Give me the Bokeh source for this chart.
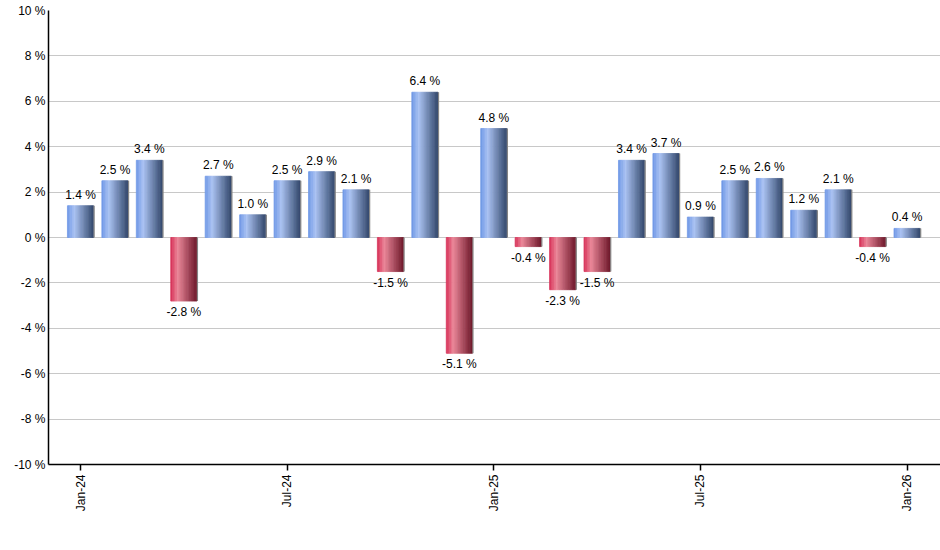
import math
from bokeh.plotting import figure
from bokeh.models import Range1d, FixedTicker, PrintfTickFormatter, ColumnDataSource
from bokeh.core.properties import value
from bokeh.embed import file_html
from bokeh.resources import INLINE

# ---- data ----
months = ["Jan-24", "Feb-24", "Mar-24", "Apr-24", "May-24", "Jun-24", "Jul-24",
          "Aug-24", "Sep-24", "Oct-24", "Nov-24", "Dec-24", "Jan-25", "Feb-25",
          "Mar-25", "Apr-25", "May-25", "Jun-25", "Jul-25", "Aug-25", "Sep-25",
          "Oct-25", "Nov-25", "Dec-25", "Jan-26"]
returns = [1.4, 2.5, 3.4, -2.8, 2.7, 1.0, 2.5, 2.9, 2.1, -1.5, 6.4, -5.1, 4.8,
           -0.4, -2.3, -1.5, 3.4, 3.7, 0.9, 2.5, 2.6, 1.2, 2.1, -0.4, 0.4]
tick_months = ["Jan-24", "Jul-24", "Jan-25", "Jul-25", "Jan-26"]
y_ticks = [-10, -8, -6, -4, -2, 0, 2, 4, 6, 8, 10]

FONT = "Liberation Sans"
BAR_W = 0.76
N_SLICES = 16

blue_stops = [(0.0, (0x6c, 0x96, 0xe6)), (0.28, (0xaa, 0xc2, 0xf2)), (1.0, (0x33, 0x48, 0x6c))]
red_stops = [(0.0, (0xd6, 0x2c, 0x54)), (0.28, (0xea, 0x86, 0x98)), (1.0, (0x6e, 0x18, 0x2a))]


def grad(stops, t):
    for (t0, c0), (t1, c1) in zip(stops[:-1], stops[1:]):
        if t0 <= t <= t1:
            f = (t - t0) / (t1 - t0)
            c = [round(a + (b - a) * f) for a, b in zip(c0, c1)]
            return "#%02x%02x%02x" % tuple(c)
    return "#%02x%02x%02x" % stops[-1][1]


xs, tops, widths, colors = [], [], [], []
sw = BAR_W / N_SLICES
for i, v in enumerate(returns):
    stops = blue_stops if v >= 0 else red_stops
    for k in range(N_SLICES):
        t = (k + 0.5) / N_SLICES
        xs.append(i - BAR_W / 2 + (k + 0.5) * sw)
        tops.append(v)
        widths.append(sw)
        colors.append(grad(stops, t))

slice_src = ColumnDataSource(dict(x=xs, top=tops, w=widths, c=colors))

p = figure(width=940, height=534, output_backend="svg", toolbar_location=None,
           x_range=Range1d(-0.93, 24.97), y_range=Range1d(-10, 10),
           min_border_left=48, min_border_right=0, min_border_top=10, min_border_bottom=70)
p.outline_line_color = None
p.background_fill_color = "white"
p.border_fill_color = "white"

p.vbar(x="x", top="top", bottom=0, width="w", fill_color="c", line_color="c",
       line_width=0.8, source=slice_src)

# thin grey shade on right edge of each bar
edge_x = [i + BAR_W / 2 + 0.015 for i in range(len(returns))]
p.segment(x0=edge_x, y0=[0] * len(returns), x1=edge_x, y1=returns,
          line_color="#858585", line_width=1.2)

# value labels
pos_i = [i for i, v in enumerate(returns) if v >= 0]
neg_i = [i for i, v in enumerate(returns) if v < 0]
p.text(x=pos_i, y=[returns[i] for i in pos_i], text=[f"{returns[i]:.1f} %" for i in pos_i],
       text_font=value(FONT), text_font_size="12px", text_color="black",
       text_align="center", text_baseline="bottom", y_offset=-4)
p.text(x=neg_i, y=[returns[i] for i in neg_i], text=[f"{returns[i]:.1f} %" for i in neg_i],
       text_font=value(FONT), text_font_size="12px", text_color="black",
       text_align="center", text_baseline="top", y_offset=4)

# axes
tick_pos = [months.index(m) for m in tick_months]
p.xaxis.ticker = FixedTicker(ticks=tick_pos)
p.xaxis.major_label_overrides = {pos: lab for pos, lab in zip(tick_pos, tick_months)}
p.xaxis.major_label_orientation = math.pi / 2
p.xaxis.major_tick_out = 6
p.xaxis.major_tick_in = 0
p.xaxis.minor_tick_line_color = None
p.xaxis.axis_line_color = "black"
p.xaxis.axis_line_width = 1.5
p.xaxis.major_tick_line_color = "black"
p.xaxis.major_tick_line_width = 1.5
p.xaxis.major_label_text_font = FONT
p.xaxis.major_label_text_font_size = "12px"
p.xaxis.major_label_text_color = "black"
p.xaxis.major_label_standoff = 4

p.yaxis.ticker = FixedTicker(ticks=y_ticks)
p.yaxis.formatter = PrintfTickFormatter(format="%d %%")
p.yaxis.major_tick_out = 0
p.yaxis.major_tick_in = 0
p.yaxis.minor_tick_line_color = None
p.yaxis.axis_line_color = "black"
p.yaxis.axis_line_width = 1.5
p.yaxis.major_label_text_font = FONT
p.yaxis.major_label_text_font_size = "12px"
p.yaxis.major_label_text_color = "black"
p.yaxis.major_label_standoff = 3

p.xgrid.grid_line_color = None
p.ygrid.grid_line_color = "#c8c8c8"
p.ygrid.grid_line_width = 1
p.ygrid.ticker = FixedTicker(ticks=y_ticks)

open("out.html", "w").write(file_html(p, INLINE))
